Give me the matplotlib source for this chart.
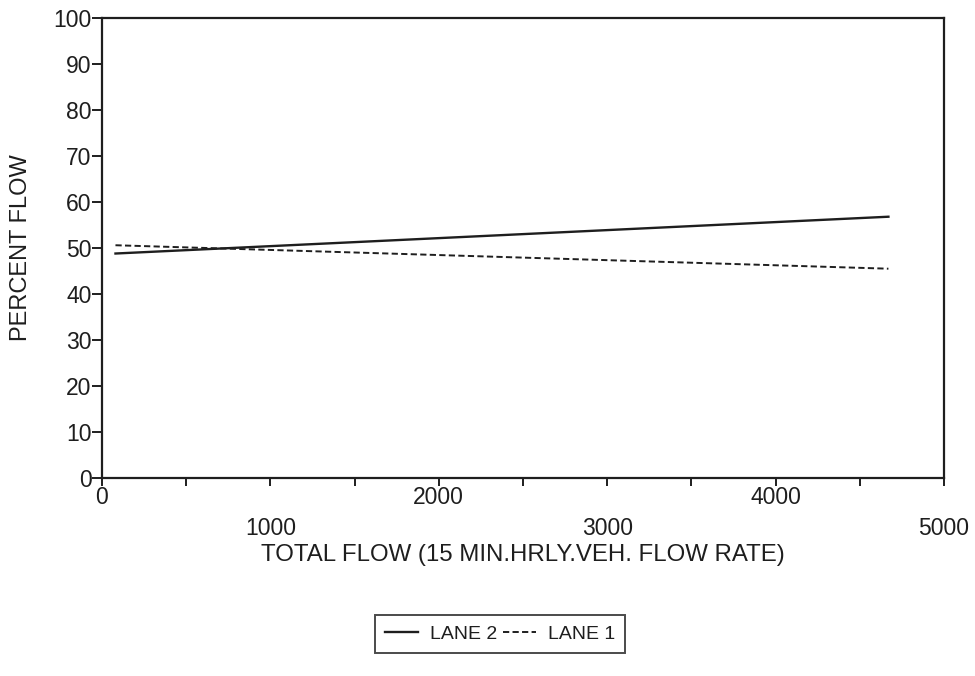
import matplotlib
matplotlib.use("Agg")
import matplotlib.pyplot as plt

# lane share of total flow, straight-line fits
flow = [80, 4670]
lane2 = [48.8, 56.8]
lane1 = [50.6, 45.5]

x_ticks = [0, 500, 1000, 1500, 2000, 2500, 3000, 3500, 4000, 4500, 5000]
x_labels = ["0", "", "1000", "", "2000", "", "3000", "", "4000", "", "5000"]
y_ticks = [0, 10, 20, 30, 40, 50, 60, 70, 80, 90, 100]

ink = "#1e1e1e"
plt.rcParams["font.family"] = ["Liberation Sans", "DejaVu Sans"]

fig = plt.figure(figsize=(9.75, 6.76), dpi=100)
ax = fig.add_axes([102 / 975, 1 - 478 / 676, 842 / 975, 460 / 676])

ax.plot(flow, lane2, color=ink, lw=1.7, label="LANE 2")
ax.plot(flow, lane1, color=ink, lw=1.4, dashes=(3.2, 1.7), label="LANE 1")

ax.set_xlim(0, 5000)
ax.set_ylim(0, 100)
for s in ax.spines.values():
    s.set_linewidth(1.6)
    s.set_color(ink)

ax.set_yticks(y_ticks)
ax.tick_params(axis="y", length=7, width=1.4, pad=0.5, labelsize=16.5, colors=ink)
ax.set_xticks(x_ticks)
ax.set_xticklabels(x_labels)
ax.tick_params(axis="x", length=6, width=1.4, labelsize=16.5, colors=ink)

# odd thousands sit on a second, lower row
for i, t in enumerate(ax.xaxis.get_major_ticks()):
    t.set_pad(22 if x_ticks[i] % 2000 == 1000 else 0)

ax.set_xlabel("TOTAL FLOW (15 MIN.HRLY.VEH. FLOW RATE)", fontsize=17.3,
              color=ink, labelpad=3)
ax.set_ylabel("PERCENT FLOW", fontsize=17, color=ink, labelpad=15)

leg = fig.legend(loc="center", bbox_to_anchor=(500 / 975, 1 - 634 / 676),
                 ncol=2, fontsize=14, frameon=True, fancybox=False,
                 edgecolor=ink, handlelength=1.7, handletextpad=0.6,
                 columnspacing=0.3, borderpad=0.5)
leg.get_frame().set_linewidth(1.4)
for t in leg.get_texts():
    t.set_color(ink)

fig.savefig("out.png", dpi=100)
